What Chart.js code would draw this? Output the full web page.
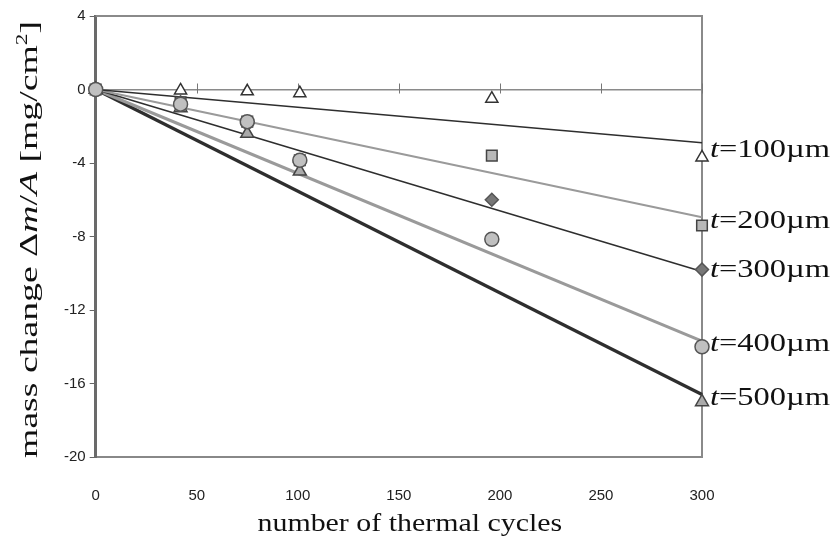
<!DOCTYPE html>
<html>
<head>
<meta charset="utf-8">
<script src="https://cdn.jsdelivr.net/npm/chart.js@4.4.0/dist/chart.umd.min.js"></script>
<style>
  html, body { margin: 0; padding: 0; background: #fff; }
  canvas { display: block; }
</style>
</head>
<body>
<canvas id="massChart" width="835" height="538"></canvas>
<script>
// values
const cycles = [0, 42, 75, 101, 196, 300];
const t100 = [0, -0.05, -0.1, -0.2, -0.5, -3.7];
const t200 = [0, -0.7, -1.75, -3.85, -3.6, -7.4];
const t300 = [0, -0.7, -1.85, -3.95, -6.0, -9.8];
const t400 = [0, -0.8, -1.75, -3.85, -8.15, -14.0];
const t500 = [0, -1.0, -2.4, -4.45, null, -17.0];
const trendEnd = [-2.9, -6.95, -9.9, -13.7, -16.6];
const thickness = ['100', '200', '300', '400', '500'];
const xTicks = [0, 50, 100, 150, 200, 250, 300];

const serif = '"Liberation Serif", "Times New Roman", serif';
const sans = '"Liberation Sans", Arial, sans-serif';

const series = [t100, t200, t300, t400, t500];
const markers = [
    { style: 'triangle', fill: '#ffffff', stroke: '#333333', r: 7 },
    { style: 'rect', fill: '#b8b8b8', stroke: '#444444', r: 7.5 },
    { style: 'rectRot', fill: '#777777', stroke: '#555555', r: 6.5 },
    { style: 'circle', fill: '#c0c0c0', stroke: '#555555', r: 7 },
    { style: 'triangle', fill: '#aaaaaa', stroke: '#444444', r: 7.5 }
];
const trendStyle = [
    { color: '#2e2e2e', width: 1.6 },
    { color: '#9a9a9a', width: 2 },
    { color: '#2e2e2e', width: 1.6 },
    { color: '#9a9a9a', width: 3 },
    { color: '#2e2e2e', width: 3.2 }
];

const pts = vals => cycles.map((c, i) => ({ x: c, y: vals[i] })).filter(p => p.y !== null);

const datasets = [];
series.forEach((vals, i) => {
    datasets.push({
        type: 'line',
        label: 'trend ' + thickness[i],
        data: [{ x: 0, y: 0 }, { x: 300, y: trendEnd[i] }],
        borderColor: trendStyle[i].color,
        borderWidth: trendStyle[i].width,
        pointRadius: 0,
        fill: false,
        clip: false,
        order: 10
    });
});
// circles drawn above the others at the crowded columns
const markerOrder = [3, 4, 5, 1, 2];
series.forEach((vals, i) => {
    datasets.push({
        type: 'scatter',
        label: 't=' + thickness[i] + 'µm',
        data: pts(vals),
        pointStyle: markers[i].style,
        pointRadius: markers[i].r,
        backgroundColor: markers[i].fill,
        borderColor: markers[i].stroke,
        borderWidth: 1.5,
        showLine: false,
        clip: false,
        order: markerOrder[i]
    });
});

// draws text pieces (with italic parts) stretched a little sideways, like the scanned figure
function drawRuns(ctx, runs, size, stretch) {
    let total = 0;
    runs.forEach(r => {
        ctx.font = (r.italic ? 'italic ' : '') + (r.sup ? size * 0.62 : size) + 'px ' + serif;
        r.w = ctx.measureText(r.text).width;
        total += r.w;
    });
    return {
        width: total * stretch,
        paint(x, y) {
            ctx.save();
            ctx.translate(x, y);
            ctx.scale(stretch, 1);
            let cx = 0;
            runs.forEach(r => {
                ctx.font = (r.italic ? 'italic ' : '') + (r.sup ? size * 0.62 : size) + 'px ' + serif;
                ctx.fillText(r.text, cx, r.sup ? -size * 0.38 : 0);
                cx += r.w;
            });
            ctx.restore();
        }
    };
}

const decorations = {
    id: 'decorations',
    beforeDatasetsDraw(chart) {
        const { ctx, chartArea, scales } = chart;
        const x = scales.x, y = scales.y;
        ctx.save();
        // grey frame on top and right
        ctx.strokeStyle = '#8a8a8a';
        ctx.lineWidth = 2;
        ctx.beginPath();
        ctx.moveTo(chartArea.left, chartArea.top);
        ctx.lineTo(chartArea.right, chartArea.top);
        ctx.lineTo(chartArea.right, chartArea.bottom);
        ctx.stroke();
        // tick marks on the zero line
        const y0 = y.getPixelForValue(0);
        ctx.strokeStyle = '#777';
        ctx.lineWidth = 1;
        xTicks.forEach(v => {
            const px = Math.round(x.getPixelForValue(v)) + 0.5;
            ctx.beginPath();
            ctx.moveTo(px, y0 - 6);
            ctx.lineTo(px, y0 + 4);
            ctx.stroke();
        });
        ctx.restore();
    },
    afterDraw(chart) {
        const { ctx, chartArea, scales } = chart;
        const y = scales.y;
        ctx.save();
        ctx.fillStyle = '#111';
        ctx.textBaseline = 'middle';
        // series labels at the right end
        series.forEach((vals, i) => {
            const last = vals[vals.length - 1];
            const py = y.getPixelForValue((last + trendEnd[i]) / 2);
            const t = drawRuns(ctx, [
                { text: 't', italic: true },
                { text: '=' + thickness[i] + 'µm' }
            ], 25, 1.3);
            t.paint(chartArea.right + 8, py);
        });
        // x axis title
        ctx.textBaseline = 'alphabetic';
        const xt = drawRuns(ctx, [{ text: 'number of thermal cycles' }], 26, 1.15);
        xt.paint((chartArea.left + chartArea.right) / 2 + 11 - xt.width / 2, 531);
        // y axis title
        const yt = drawRuns(ctx, [
            { text: 'mass change Δ' },
            { text: 'm', italic: true },
            { text: '/' },
            { text: 'A', italic: true },
            { text: ' [mg/cm' },
            { text: '2', sup: true },
            { text: ']' }
        ], 26, 1.45);
        ctx.translate(37, (chartArea.top + chartArea.bottom) / 2 + 3);
        ctx.rotate(-Math.PI / 2);
        yt.paint(-yt.width / 2, 0);
        ctx.restore();
    }
};

new Chart(document.getElementById('massChart'), {
    type: 'scatter',
    data: { datasets: datasets },
    options: {
        responsive: false,
        animation: false,
        layout: { padding: { left: 60, right: 133, top: 16, bottom: 3 } },
        plugins: {
            legend: { display: false },
            tooltip: { enabled: false }
        },
        scales: {
            x: {
                type: 'linear',
                min: 0,
                max: 300,
                ticks: { stepSize: 50, color: '#222', font: { family: sans, size: 15 }, padding: 30 },
                grid: { display: false, drawTicks: false, tickLength: 0 },
                border: { color: '#888', width: 2 }
            },
            y: {
                type: 'linear',
                min: -20,
                max: 4,
                ticks: { stepSize: 4, color: '#222', font: { family: sans, size: 15 }, padding: 4 },
                grid: {
                    color: c => (c.tick && c.tick.value === 0) ? '#8a8a8a' : 'rgba(0,0,0,0)',
                    lineWidth: c => (c.tick && c.tick.value === 0) ? 1.5 : 1,
                    tickColor: '#666',
                    tickLength: 6
                },
                border: { color: '#6a6a6a', width: 3 }
            }
        }
    },
    plugins: [decorations]
});
</script>
</body>
</html>
